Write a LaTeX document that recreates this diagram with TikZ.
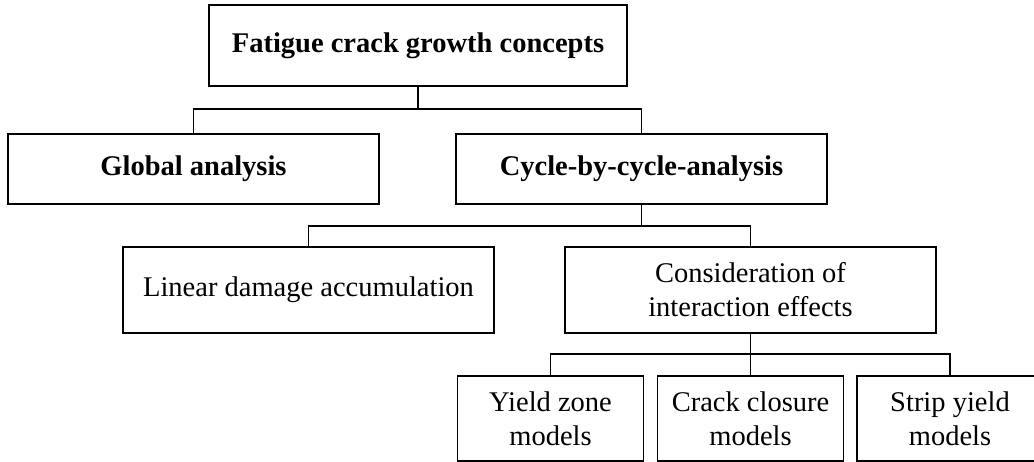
\documentclass[tikz,border=0pt]{standalone}
\usepackage{fontspec}
\setmainfont{Liberation Serif}
\begin{document}
\begin{tikzpicture}[x=1pt,y=-1pt,
  box/.style={draw, line width=1.3pt, inner sep=0pt, align=center,
    font=\fontsize{28.5}{34}\selectfont},
  boldbox/.style={box, font=\fontsize{28.5}{34}\selectfont\bfseries},
  lvltwo/.style={minimum width=371pt, minimum height=70pt},
  lvlthree/.style={minimum width=371pt, minimum height=86pt},
  lvlfour/.style={minimum width=186pt, minimum height=85pt},
  conn/.style={line width=1.3pt}]
\useasboundingbox (0,0) rectangle (1034,462);
\clip (0,0) rectangle (1034,462);
\node[boldbox, minimum width=418pt, minimum height=81pt] (top) at (418,45.5) {Fatigue crack growth concepts};
\node[boldbox, lvltwo] (global) at (193.5,169) {Global analysis};
\node[boldbox, lvltwo] (cycle) at (641.5,169) {Cycle-by-cycle-analysis};
\node[box, lvlthree] (linear) at (308.5,290) {Linear damage accumulation};
\node[box, lvlthree] (consid) at (750.5,290) {Consideration of\\interaction effects};
\node[box, lvlfour] (yield) at (550.5,418.5) {Yield zone\\models};
\node[box, lvlfour] (crack) at (750.5,418.5) {Crack closure\\models};
\node[box, lvlfour] (strip) at (950,418.5) {Strip yield\\models};
\coordinate (j1) at (418,109);
\coordinate (j2) at (641.5,226);
\coordinate (j3) at (750.5,354);
\draw[conn] (top.south) -- (j1);
\draw[conn] (global.north) |- (j1) -| (cycle.north);
\draw[conn] (cycle.south) -- (j2);
\draw[conn] (linear.north) |- (j2) -| (consid.north);
\draw[conn] (consid.south) -- (crack.north);
\draw[conn] (yield.north) |- (j3) -| (strip.north);
\end{tikzpicture}
\end{document}
